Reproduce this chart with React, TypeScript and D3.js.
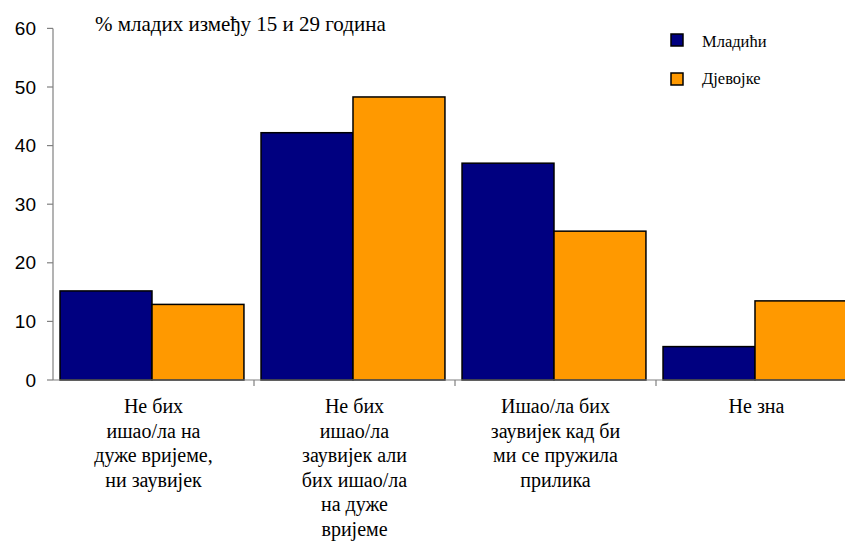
import React from "react";
import * as d3 from "d3";

const categories: string[][] = [
  ["Не бих", "ишао/ла на", "дуже вријеме,", "ни заувијек"],
  ["Не бих", "ишао/ла", "заувијек али", "бих ишао/ла", "на дуже", "вријеме"],
  ["Ишао/ла бих", "заувијек кад би", "ми се пружила", "прилика"],
  ["Не зна"],
];
const seriesNames = ["Младићи", "Дјевојке"];
const mladici = [15.2, 42.2, 37.0, 5.7];
const djevojke = [12.9, 48.3, 25.4, 13.5];
const yTicks = [0, 10, 20, 30, 40, 50, 60];
const colors = ["#000080", "#FF9900"];

const SERIF = "'Liberation Serif', 'Times New Roman', serif";
const SANS = "'Liberation Sans', Arial, sans-serif";

export default function App() {
  const W = 845, H = 541;
  const x0 = 53, x1 = 857, y0 = 380, yTop = 28.4;
  const keys = categories.map((_, i) => String(i));
  const x = d3.scaleBand().domain(keys).range([x0, x1]).padding(0);
  const bw = x.bandwidth();
  const xs = d3.scaleBand().domain(seriesNames).range([bw * 0.035, bw * 0.95]).padding(0);
  const y = d3.scaleLinear().domain([0, 60]).range([y0, yTop]);
  const series = [mladici, djevojke];
  return (
    <svg width={W} height={H} style={{ position: "absolute", left: 0, top: 0, background: "#fff" }}>
      <rect width={W} height={H} fill="#fff" />
      {series.map((vals, si) =>
        vals.map((v, ci) => (
          <rect
            key={`${si}-${ci}`}
            x={x(String(ci))! + xs(seriesNames[si])!}
            y={y(v)}
            width={xs.bandwidth()}
            height={y0 - y(v)}
            fill={colors[si]}
            stroke="#000"
            strokeWidth={1.5}
          />
        ))
      )}
      <line x1={x0} x2={W} y1={y0} y2={y0} stroke="#808080" strokeWidth={1.2} />
      <line x1={x0} x2={x0} y1={yTop} y2={y0} stroke="#808080" strokeWidth={1.2} />
      {yTicks.map((t) => (
        <g key={t}>
          <line x1={x0 - 6} x2={x0} y1={y(t)} y2={y(t)} stroke="#808080" strokeWidth={1.2} />
          <text x={36} y={y(t) + 6.5} textAnchor="end" style={{ fontFamily: SANS }} fontSize={19} fill="#000">
            {t}
          </text>
        </g>
      ))}
      {keys.slice(1).map((k) => (
        <line key={k} x1={x(k)!} x2={x(k)!} y1={y0} y2={y0 + 6} stroke="#808080" strokeWidth={1.2} />
      ))}
      {categories.map((lines, ci) => (
        <text key={ci} textAnchor="middle" style={{ fontFamily: SERIF }} fontSize={20} fill="#000">
          {lines.map((l, li) => (
            <tspan key={li} x={x(String(ci))! + bw / 2} y={413 + li * 24.5}>
              {l}
            </tspan>
          ))}
        </text>
      ))}
      <text x={95} y={31} style={{ fontFamily: SERIF }} fontSize={21} fill="#000">
        % младих између 15 и 29 година
      </text>
      {seriesNames.map((n, i) => (
        <g key={n}>
          <rect x={671} y={34 + i * 39} width={12} height={12} fill={colors[i]} stroke="#000" strokeWidth={1.5} />
          <text x={702} y={47 + i * 37} style={{ fontFamily: SERIF }} fontSize={16.5} fill="#000">
            {n}
          </text>
        </g>
      ))}
    </svg>
  );
}
